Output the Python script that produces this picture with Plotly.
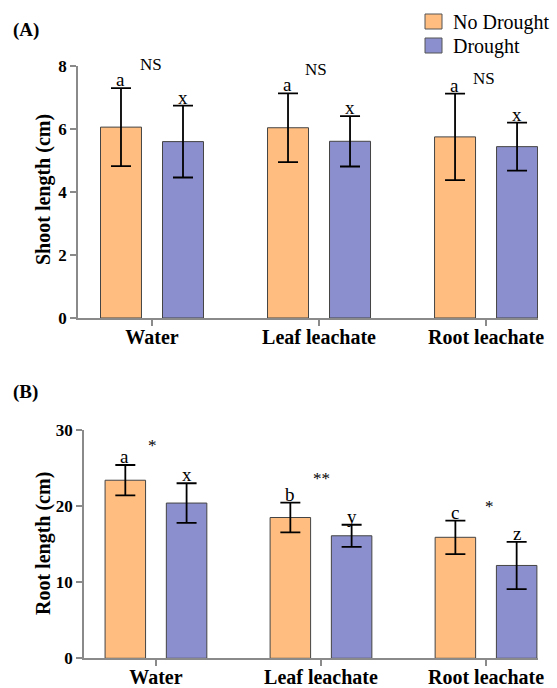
import plotly.graph_objects as go

categories = ["Water", "Leaf leachate", "Root leachate"]
series_names = ["No Drought", "Drought"]

shoot_no_drought = [6.06, 6.04, 5.75]
shoot_no_drought_sd = [1.24, 1.09, 1.37]
shoot_drought = [5.60, 5.61, 5.44]
shoot_drought_sd = [1.14, 0.80, 0.76]

root_no_drought = [23.4, 18.5, 15.9]
root_no_drought_sd = [2.0, 1.95, 2.2]
root_drought = [20.4, 16.1, 12.2]
root_drought_sd = [2.6, 1.45, 3.1]

shoot_letters_nd = ["a", "a", "a"]
shoot_letters_d = ["x", "x", "x"]
root_letters_nd = ["a", "b", "c"]
root_letters_d = ["x", "y", "z"]
shoot_sig = ["NS", "NS", "NS"]
root_sig = ["*", "**", "*"]

FONT = "Liberation Serif"
ORANGE = "#FFBE80"
PURPLE = "#8C8FCD"
COLORS = [ORANGE, PURPLE]
W, H = 557, 688

fig = go.Figure()

def add_bars(xa, ya, nd, ndsd, d, dsd):
    for name, vals, sd, col in [(series_names[0], nd, ndsd, ORANGE),
                                (series_names[1], d, dsd, PURPLE)]:
        fig.add_trace(go.Bar(
            x=categories, y=vals, name=name, xaxis=xa, yaxis=ya,
            marker=dict(color=col, line=dict(color="#444444", width=1)),
            error_y=dict(type="data", array=sd, visible=True, color="black",
                         thickness=1.8, width=10),
            showlegend=False,
        ))

add_bars("x", "y", shoot_no_drought, shoot_no_drought_sd, shoot_drought, shoot_drought_sd)
add_bars("x2", "y2", root_no_drought, root_no_drought_sd, root_drought, root_drought_sd)

axis_common = dict(showline=True, linecolor="#8a8a8a", linewidth=1.5, ticks="outside",
                   ticklen=6, tickcolor="#8a8a8a", tickwidth=1.5, showgrid=False,
                   zeroline=False)
xfont = dict(family=FONT, size=20, weight="bold", color="black")
yfont = dict(family=FONT, size=17, weight="bold", color="black")

fig.update_layout(
    width=W, height=H, autosize=False,
    margin=dict(l=0, r=0, t=0, b=0, autoexpand=False),
    plot_bgcolor="white", paper_bgcolor="white",
    barmode="group", bargap=0.2575, bargroupgap=0.339,
    font=dict(family=FONT, color="black"),
    showlegend=False,
    xaxis=dict(domain=[78 / W, 538 / W], anchor="y", range=[-0.443, 2.311], type="category",
               tickfont=xfont, ticklabelstandoff=-6, **axis_common),
    yaxis=dict(domain=[(H - 318) / H, (H - 66) / H], anchor="x", range=[0, 8], dtick=2,
               tickfont=yfont, **axis_common),
    xaxis2=dict(domain=[84 / W, 538 / W], anchor="y2", range=[-0.436, 2.315], type="category",
                tickfont=xfont, ticklabelstandoff=-6, **axis_common),
    yaxis2=dict(domain=[(H - 658.3) / H, (H - 430) / H], anchor="x2", range=[0, 30], dtick=10,
                tickfont=yfont, **axis_common),
)

ann = []
shapes = []
# legend (drawn manually so it does not push the margins)
for i, (name, col) in enumerate(zip(series_names, COLORS)):
    top = 14 + i * 24
    shapes.append(dict(type="rect", xref="paper", yref="paper",
                       x0=425 / W, x1=442 / W, y0=1 - (top + 15) / H, y1=1 - top / H,
                       fillcolor=col, line=dict(color="#555555", width=1)))
    ann.append(dict(text=name, x=451 / W, y=1 - (top + 8) / H, xref="paper", yref="paper",
                    xanchor="left", yanchor="middle", showarrow=False,
                    font=dict(size=20, family=FONT)))
# panel labels
ann.append(dict(text="<b>(A)</b>", x=11 / W, y=1 - 30 / H, xref="paper", yref="paper",
                xanchor="left", yanchor="middle", showarrow=False, font=dict(size=19, family=FONT)))
ann.append(dict(text="<b>(B)</b>", x=11 / W, y=1 - 392 / H, xref="paper", yref="paper",
                xanchor="left", yanchor="middle", showarrow=False, font=dict(size=19, family=FONT)))
# y titles
ann.append(dict(text="<b>Shoot length (cm)</b>", x=43 / W, y=1 - 190 / H, xref="paper", yref="paper",
                textangle=-90, showarrow=False, xanchor="center", yanchor="middle",
                font=dict(size=20, family=FONT)))
ann.append(dict(text="<b>Root length (cm)</b>", x=43 / W, y=1 - 544 / H, xref="paper", yref="paper",
                textangle=-90, showarrow=False, xanchor="center", yanchor="middle",
                font=dict(size=20, family=FONT)))

def letters(xr, yr, means, sds, labs, off):
    for i, (m, s, l) in enumerate(zip(means, sds, labs)):
        ann.append(dict(text=l, x=i + off, y=m + s, xref=xr, yref=yr, xanchor="center",
                        yanchor="bottom", yshift=-4, showarrow=False,
                        font=dict(size=19, family=FONT)))

letters("x", "y", shoot_no_drought, shoot_no_drought_sd, shoot_letters_nd, -0.186)
letters("x", "y", shoot_drought, shoot_drought_sd, shoot_letters_d, 0.186)
letters("x2", "y2", root_no_drought, root_no_drought_sd, root_letters_nd, -0.188)
letters("x2", "y2", root_drought, root_drought_sd, root_letters_d, 0.188)

# (dx, y, pixel shift) for the significance marks
shoot_sig_pos = [(-0.005, 7.95, 3), (-0.02, 7.9, 0), (-0.01, 7.59, 0)]
root_sig_pos = [(-0.02, 28.0, 0), (0.005, 23.6, 0), (0.02, 19.9, 0)]
for i, (lab, (dx, y, sh)) in enumerate(zip(shoot_sig, shoot_sig_pos)):
    ann.append(dict(text=lab, x=i + dx, y=y, yshift=sh, xref="x", yref="y", showarrow=False,
                    xanchor="center", yanchor="middle", font=dict(size=17, family=FONT)))
for i, (lab, (dx, y, sh)) in enumerate(zip(root_sig, root_sig_pos)):
    ann.append(dict(text=lab, x=i + dx, y=y, yshift=sh, xref="x2", yref="y2", showarrow=False,
                    xanchor="center", yanchor="middle", font=dict(size=17, family=FONT)))

fig.update_layout(annotations=ann, shapes=shapes)
fig.write_html("out.html", config={"displayModeBar": False},
               post_script="document.body.style.margin='0px';")
